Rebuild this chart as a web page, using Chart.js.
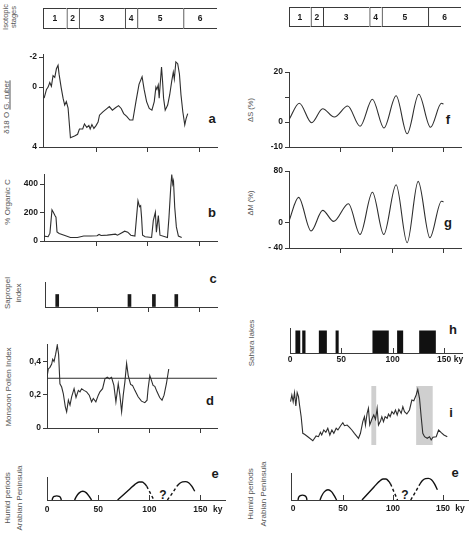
<!DOCTYPE html>
<html><head><meta charset="utf-8">
<script src="https://cdn.jsdelivr.net/npm/chart.js@4/dist/chart.umd.min.js"></script>
<style>
html,body{margin:0;padding:0;background:#fff}
body{width:470px;height:539px;position:relative;overflow:hidden;font-family:"Liberation Sans",Arial,sans-serif}
.t{position:absolute;transform:translate(-50%,-50%) rotate(-90deg);white-space:nowrap;font-size:8px;color:#555;text-align:center;line-height:11px}
.l{position:absolute;transform:translate(-50%,-50%);font-weight:bold;font-size:13px;color:#1a1a1a;line-height:13px}
</style></head><body>
<div class="t" style="left:9px;top:17px;font-size:7.5px;line-height:7.5px">Isotopic<br>stages</div>
<div class="t" style="left:6px;top:107px">δ18 O <u>G. ruber</u></div>
<div class="t" style="left:7px;top:202px">% Organic C</div>
<div class="t" style="left:13px;top:293px">Sapropel<br>index</div>
<div class="t" style="left:8px;top:387px">Monsoon Pollen Index</div>
<div class="t" style="left:13px;top:498px;line-height:11.5px">Humid periods<br>Arabian Peninsula</div>
<div class="t" style="left:250px;top:110px;font-size:7.5px">ΔS (%)</div>
<div class="t" style="left:250px;top:203px;font-size:7.5px">ΔM (%)</div>
<div class="t" style="left:251px;top:343px">Sahara lakes</div>
<div class="t" style="left:257px;top:494px;line-height:13px">Humid periods<br>Arabian Peninsula</div>
<div class="l" style="left:212px;top:118px">a</div>
<div class="l" style="left:212px;top:212px">b</div>
<div class="l" style="left:213px;top:278px">c</div>
<div class="l" style="left:210px;top:400px">d</div>
<div class="l" style="left:215px;top:473px">e</div>
<div class="l" style="left:163px;top:495px;font-size:12px">?</div>
<div class="l" style="left:448px;top:119px">f</div>
<div class="l" style="left:448px;top:222px">g</div>
<div class="l" style="left:453px;top:329px">h</div>
<div class="l" style="left:451px;top:412px">i</div>
<div class="l" style="left:455px;top:472px">e</div>
<div class="l" style="left:405px;top:495px;font-size:12px">?</div>
<script>
// ---------------- DATA ----------------
const stageNames = ['1','2','3','4','5','6'];
const stageBoundaries = [21, 33, 78, 90, 135];
const xTickValues = [0, 50, 100, 150];

const o18Age = [-0.9,1.4,3,4.6,6.2,7.8,9.5,11.1,12.7,13.7,15.8,17.6,19.2,20.8,22.5,24.8,28.8,31.8,33.6,36.8,38.5,40.8,42.8,44.1,45.8,47.7,49.8,51.8,53.2,56.5,59.8,62.8,65.8,68.8,71.8,74.4,76.8,79.8,82.8,85.8,88.8,91.8,94.8,96.8,99.2,101.8,104.4,106.7,108.3,109.3,110.6,111.5,112.5,113.8,114.8,115.8,117.4,119.8,121.8,123.8,125.3,126.3,127.8,129.6,131.3,132.8,134.6,136.5,137.8,139.4];
const o18Val = [0.74,0.16,0,-0.3,-0.05,-0.76,-0.64,-1.22,-1.45,-0.86,0.05,0.74,1.2,0.97,1.4,3.38,3.26,3.15,2.8,2.8,2.46,2.7,2.57,2.8,2.5,2.76,2.57,2.34,1.88,1.65,1.47,1.3,1.54,1.38,1.24,1.43,1.77,1.95,2.2,2.2,0.97,-0.18,-0.69,0.16,0.97,1.43,1.54,0.97,0,0.16,-0.14,0.74,-0.18,-1.33,-0.41,0.74,1.54,1.2,0.51,-0.41,-0.99,-0.53,-1.68,-1.56,-0.87,0.51,1.65,2.52,2.1,1.77];
const o18Ticks = [-2, 0, 4];
const o18TickLabels = ['-2', '0', '4'];

const orgCAge = [-1.7,3,4.8,6.8,8.1,9.7,10.7,11.7,13.8,18.7,24.8,31.6,37.8,44.4,50.8,52.8,54.8,60.8,68.8,70.8,73.8,77.8,80.8,83.8,87.8,89.4,90.8,92.3,93.4,94.3,95.3,97.8,104.1,105.8,107.8,108.8,110.7,112.3,119.6,121.1,122.8,123.8,124.8,125.5,126.7,128.3,130.3,133.5];
const orgCVal = [35,30,55,219,202,179,168,64,53,41,25,25,35,35,37,46,39,41,48,41,53,69,62,41,35,168,283,241,248,168,41,30,25,145,202,62,179,41,25,168,375,467,400,421,237,99,35,25];
const orgCTicks = [0, 200, 400];
const orgCTickLabels = ['0', '200', '400'];

const sapropelAge = [11, 82, 106, 128];
const sapropelVal = [0.5, 0.5, 0.5, 0.5];

const pollenAge = [0,1.3,2.9,4.6,5.6,6.9,8.5,10.1,11.4,12.7,14.4,16,18,19.3,21,22.6,24.2,26.6,28.5,30.8,32.4,34,36.3,38.9,41.5,43.8,45.5,48,50.4,52,54.6,56.9,59.2,61.2,63.4,65.7,67.7,70,71.6,73.3,74.9,76.5,78.2,79.8,82.1,84,86.3,89.5,92.8,96.1,98.3,99.3,101,102.6,104.2,105.9,108.1,110.7,113,115,117.3,119.6];
const pollenVal = [0.306,0.356,0.366,0.386,0.415,0.401,0.445,0.5,0.445,0.267,0.247,0.208,0.128,0.098,0.168,0.138,0.188,0.237,0.184,0.227,0.218,0.237,0.227,0.218,0.198,0.158,0.178,0.158,0.198,0.218,0.237,0.297,0.306,0.297,0.306,0.257,0.158,0.267,0.198,0.098,0.198,0.277,0.39,0.316,0.263,0.257,0.227,0.188,0.162,0.153,0.168,0.237,0.316,0.287,0.257,0.251,0.218,0.184,0.168,0.198,0.267,0.356];
const pollenThreshold = 0.3;
const pollenTicks = [0, 0.2, 0.4];
const pollenTickLabels = ['0', '0,2', '0,4'];

const humid1Age = [5, 5.6, 7.3, 9.5, 11.7, 13.4, 14];
const humid1Val = [0, 0.09, 0.16, 0.18, 0.16, 0.09, 0];
const humid2Age = [27, 28.5, 31.5, 35, 38.5, 41.5, 43.6];
const humid2Val = [0, 0.14, 0.31, 0.38, 0.31, 0.14, 0];
const humid3Age = [69, 75, 81, 86, 90, 93, 96, 97.5];
const humid3Val = [0, 0.24, 0.48, 0.68, 0.78, 0.78, 0.68, 0.6];
const humid3UncertainAge = [97.5, 101, 104.5];
const humid3UncertainVal = [0.6, 0.3, 0];
const humid4UncertainAge = [117.7, 122.5, 127];
const humid4UncertainVal = [0, 0.3, 0.6];
const humid4Age = [127, 129.5, 132.5, 135.3, 138.5, 141.5, 144.4];
const humid4Val = [0.6, 0.72, 0.79, 0.8, 0.75, 0.6, 0.38];

const insolSAge = [0, 10, 22, 32.7, 44, 57, 69, 81, 92.2, 104, 114.7, 126, 137.4, 148, 150];
const insolSVal = [0.9, 7.5, -0.3, 5.3, 2, 6.4, -1.7, 9.1, -2.4, 10.5, -4.7, 11.1, -2.1, 7.5, 7.2];
const insolSTicks = [-10, 0, 10, 20];
const insolSTickLabels = ['-10', '0', '', '20'];

const insolMAge = [0, 9.3, 21.4, 32.7, 43.4, 57.7, 69, 81, 92, 104, 114.7, 125.4, 136.8, 148, 150];
const insolMVal = [2, 39, -13.5, 18.7, 1.5, 29, -18.7, 47, -19, 58.7, -31.7, 64, -24, 33, 32];
const insolMTicks = [-40, 0, 80];
const insolMTickLabels = ['- 40', '0', '80'];

const lakeStart = [5.1, 11.9, 28.1, 44.4, 80.3, 104.3, 125.8];
const lakeEnd = [10, 15.1, 35.9, 47.4, 96.2, 110.2, 142.1];
const lakeLevel = 0.9;

const dustAge = [0.5,1.8,3.1,4.4,5.7,7,8.3,9.3,10.9,12.5,14.2,17.4,22.3,25.5,27.8,29.7,31,33,35,36.9,38.9,40.9,42.8,45.1,46.8,49.4,51.6,53.2,55.8,58.1,60.4,62.9,66.9,68.8,71.1,72.7,73.7,75.3,76.6,77.9,79.9,81.8,83.5,85.1,86.4,88.4,89.7,91.3,92.9,94.9,96.2,97.8,99.5,101.4,103,104.7,106.3,108.6,110.2,111.8,114.1,116.7,119,120.9,123.2,124.8,126.5,128.1,129.7,131.4,134,136.3,137.9,139.6,142.8,145.1,147.7,150.3,153.6];
const dustVal = [43.3,50,43.3,52.3,39,52.3,48.3,40,28.3,11.7,10.7,8.3,4.3,9,8.3,12.7,10,15,12.7,16.7,10,15,11.7,16.7,15,19.3,22.3,19.3,20,17.7,15,11.7,6.7,11.7,23.3,28.3,20,31.7,36.7,20,25.7,30,25.7,36.7,20,24,28.3,23.3,28.3,26.7,31,28.3,33.3,31,35,30,35.7,31.7,38.3,33.3,31,35,45,44.3,50,55.7,46.7,28.3,11.7,8.3,6.7,8.3,5,7.7,8.3,15,12.3,10,8.3];
const bandStart = [79.3, 123.2];
const bandEnd = [84.2, 139.5];
const bandTop = 59;

// ---------------- STYLE / HELPERS ----------------
const FONT = '"Liberation Sans", Arial, sans-serif';
const LINE = '#2e2e2e';
const AX = '#3a3a3a';
Chart.defaults.font.family = FONT;
Chart.defaults.font.size = 8.5;
Chart.defaults.font.weight = 'bold';
Chart.defaults.color = '#1a1a1a';
Chart.defaults.animation = false;
Chart.defaults.plugins.legend.display = false;
Chart.defaults.plugins.tooltip.enabled = false;
if (Chart.defaults.plugins.colors) Chart.defaults.plugins.colors.enabled = false;
Chart.defaults.elements.point.radius = 0;
Chart.defaults.elements.line.borderWidth = 1.1;

const tickMarks = {
  id: 'tickMarks',
  afterDraw(chart, args, opts) {
    if (!opts || !opts.values) return;
    const s = chart.scales.x, ctx = chart.ctx, y0 = chart.chartArea.bottom;
    ctx.save(); ctx.strokeStyle = AX; ctx.lineWidth = 1;
    opts.values.forEach(v => {
      const x = Math.round(s.getPixelForValue(v)) + 0.5;
      ctx.beginPath(); ctx.moveTo(x, y0); ctx.lineTo(x, y0 + opts.len); ctx.stroke();
    });
    ctx.restore();
  }
};
const stageLabels = {
  id: 'stageLabels',
  afterDatasetsDraw(chart, args, opts) {
    if (!opts || !opts.show) return;
    const ctx = chart.ctx; ctx.save();
    ctx.font = 'bold 8.5px ' + FONT; ctx.fillStyle = '#1a1a1a';
    ctx.textAlign = 'center'; ctx.textBaseline = 'middle';
    chart.data.datasets.forEach((ds, i) => {
      const el = chart.getDatasetMeta(i).data[0];
      ctx.fillText(ds.label, (el.x + el.base) / 2, el.y + 0.5);
    });
    ctx.restore();
  }
};
Chart.register(tickMarks, stageLabels);

const pts = (xs, ys) => xs.map((x, i) => ({x, y: ys[i]}));

function mk(area, yW, xH, pad, config) {
  const cv = document.createElement('canvas');
  const w = pad.l + yW + (area.r - area.l) + pad.r;
  const h = pad.t + (area.b - area.t) + xH + pad.b;
  cv.width = w; cv.height = h;
  cv.style.cssText = 'position:absolute;left:' + (area.l - yW - pad.l) + 'px;top:' + (area.t - pad.t) + 'px;width:' + w + 'px;height:' + h + 'px';
  document.body.appendChild(cv);
  const o = config.options;
  o.responsive = false;
  o.maintainAspectRatio = false;
  o.layout = {padding: {left: pad.l, right: pad.r, top: pad.t, bottom: pad.b}};
  if (o.scales.x.display !== false) o.scales.x.afterFit = s => { s.height = xH; };
  if (o.scales.y.display !== false) o.scales.y.afterFit = s => { s.width = yW; };
  return new Chart(cv, config);
}

function xPlain(min, max) {
  return {type: 'linear', min, max, offset: false,
    border: {display: true, color: AX, width: 1},
    grid: {drawOnChartArea: false, drawTicks: false, offset: false},
    ticks: {display: false}};
}
function xLabelled(min, max, kyAt, pad) {
  return {type: 'linear', min, max, offset: false,
    border: {display: true, color: AX, width: 1},
    grid: {drawOnChartArea: false, drawTicks: false, offset: false},
    afterBuildTicks: s => { s.ticks = xTickValues.concat([kyAt]).map(v => ({value: v})); },
    ticks: {display: true, padding: pad, autoSkip: false, maxRotation: 0,
      callback: v => (v === kyAt ? 'ky' : String(v))}};
}
function yTicked(min, max, vals, labels, extra) {
  return Object.assign({type: 'linear', min, max,
    border: {display: true, color: AX, width: 1},
    grid: {drawOnChartArea: false, drawTicks: true, tickLength: 4, color: AX},
    afterBuildTicks: s => { s.ticks = vals.map(v => ({value: v})); },
    ticks: {display: true, padding: 2, autoSkip: false,
      callback: (v) => labels[vals.indexOf(v)]}}, extra || {});
}
function yPlain(min, max) {
  return {type: 'linear', min, max,
    border: {display: true, color: AX, width: 1},
    grid: {drawOnChartArea: false, drawTicks: false},
    ticks: {display: false}};
}
const PAD = {l: 0, t: 6, r: 12, b: 2};
const downTicks = {values: [50, 100, 150], len: 5};
const upTicks = {values: [50, 100, 150], len: -5};
const curve = {borderColor: LINE, borderWidth: 1.1, tension: 0};

// ---------------- STAGE BOXES ----------------
function stageBox(area, xmin, xmax) {
  const bounds = [xmin].concat(stageBoundaries, [xmax]);
  mk(area, 0, 0, {l: 0, t: 0, r: 0, b: 0}, {
    type: 'bar',
    data: {labels: ['stage'], datasets: stageNames.map((n, i) => ({
      label: n, data: [[bounds[i], bounds[i + 1]]],
      backgroundColor: 'rgba(0,0,0,0)', borderColor: AX,
      borderWidth: {left: 1, top: 1, bottom: 1, right: 0}, borderSkipped: false,
      barPercentage: 1, categoryPercentage: 1, grouped: false, inflateAmount: 0}))},
    options: {indexAxis: 'y', plugins: {stageLabels: {show: true}},
      scales: {x: {type: 'linear', min: xmin, max: xmax, display: false},
               y: {display: false}}}
  });
}
stageBox({l: 43, t: 8, r: 217, b: 29}, -2, 168);
stageBox({l: 289, t: 7, r: 461, b: 27}, 0, 167);

// ---------------- a : d18O ----------------
mk({l: 43, t: 53, r: 217, b: 147}, 30, 8, PAD, {
  type: 'line',
  data: {datasets: [Object.assign({data: pts(o18Age, o18Val)}, curve)]},
  options: {plugins: {tickMarks: downTicks},
    scales: {x: xPlain(-2, 168), y: yTicked(-2.2, 4, o18Ticks, o18TickLabels, {reverse: true})}}
});

// ---------------- b : organic C ----------------
mk({l: 44, t: 173, r: 217, b: 241}, 30, 8, PAD, {
  type: 'line',
  data: {datasets: [Object.assign({data: pts(orgCAge, orgCVal)}, curve)]},
  options: {plugins: {tickMarks: downTicks},
    scales: {x: xPlain(-1, 168), y: yTicked(0, 470, orgCTicks, orgCTickLabels)}}
});

// ---------------- c : sapropels ----------------
mk({l: 45, t: 282, r: 217, b: 307}, 30, 8, PAD, {
  type: 'bar',
  data: {datasets: [{data: pts(sapropelAge, sapropelVal), backgroundColor: '#1a1a1a', borderWidth: 0, barThickness: 3}]},
  options: {plugins: {tickMarks: downTicks},
    scales: {x: xPlain(-1, 168), y: yPlain(0, 1)}}
});

// ---------------- d : monsoon pollen ----------------
mk({l: 47, t: 343, r: 217, b: 428}, 30, 8, PAD, {
  type: 'line',
  data: {datasets: [
    Object.assign({data: pts(pollenAge, pollenVal)}, curve),
    Object.assign({data: [{x: 0, y: pollenThreshold}, {x: 167, y: pollenThreshold}]}, curve, {borderWidth: 1})
  ]},
  options: {plugins: {tickMarks: downTicks},
    scales: {x: xPlain(0, 167), y: yTicked(0, 0.506, pollenTicks, pollenTickLabels)}}
});

// ---------------- e : humid periods (both columns) ----------------
function humid(area, xmin, xmax, kyAt, lblPad) {
  const solid = {tension: 0, cubicInterpolationMode: 'monotone', borderWidth: 1.4, borderColor: '#111'};
  const dash = Object.assign({}, solid, {borderDash: [3, 2.5]});
  mk(area, 30, 16, PAD, {
    type: 'line',
    data: {datasets: [
      Object.assign({data: pts(humid1Age, humid1Val)}, solid),
      Object.assign({data: pts(humid2Age, humid2Val)}, solid),
      Object.assign({data: pts(humid3Age, humid3Val)}, solid),
      Object.assign({data: pts(humid3UncertainAge, humid3UncertainVal)}, dash),
      Object.assign({data: pts(humid4UncertainAge, humid4UncertainVal)}, dash),
      Object.assign({data: pts(humid4Age, humid4Val)}, solid)
    ]},
    options: {plugins: {tickMarks: upTicks},
      scales: {x: xLabelled(xmin, xmax, kyAt, lblPad), y: yPlain(0, 1)}}
  });
}
humid({l: 47, t: 477, r: 225, b: 500}, 0, 174, 167, 5);
humid({l: 291, t: 473, r: 468, b: 500}, -2, 175, 167, 4);

// ---------------- f : delta S ----------------
mk({l: 289, t: 71, r: 461, b: 147}, 30, 8, PAD, {
  type: 'line',
  data: {datasets: [Object.assign({data: pts(insolSAge, insolSVal)}, curve, {cubicInterpolationMode: 'monotone'})]},
  options: {plugins: {tickMarks: downTicks},
    scales: {x: xPlain(0, 167), y: yTicked(-10, 20, insolSTicks, insolSTickLabels)}}
});

// ---------------- g : delta M ----------------
mk({l: 289, t: 170, r: 461, b: 248}, 30, 8, PAD, {
  type: 'line',
  data: {datasets: [Object.assign({data: pts(insolMAge, insolMVal)}, curve, {cubicInterpolationMode: 'monotone'})]},
  options: {plugins: {tickMarks: downTicks},
    scales: {x: xPlain(0, 167), y: yTicked(-40, 80, insolMTicks, insolMTickLabels)}}
});

// ---------------- h : Sahara lakes ----------------
const lakePts = [];
lakeStart.forEach((s, i) => {
  lakePts.push({x: s, y: 0}, {x: s, y: lakeLevel}, {x: lakeEnd[i], y: lakeLevel}, {x: lakeEnd[i], y: 0});
});
mk({l: 290, t: 328, r: 462, b: 353}, 30, 16, PAD, {
  type: 'line',
  data: {datasets: [{data: lakePts, tension: 0, borderWidth: 0, borderColor: 'rgba(0,0,0,0)', fill: 'origin', backgroundColor: '#111'}]},
  options: {plugins: {tickMarks: upTicks},
    scales: {x: xLabelled(0, 167.5, 164, 2), y: yPlain(0, 1)}}
});

// ---------------- i : dust record with shaded bands ----------------
const bandPts = [];
bandStart.forEach((s, i) => {
  bandPts.push({x: s, y: 0}, {x: s, y: bandTop}, {x: bandEnd[i], y: bandTop}, {x: bandEnd[i], y: 0});
});
mk({l: 290, t: 386, r: 461, b: 445}, 0, 0, {l: 0, t: 0, r: 0, b: 0}, {
  type: 'line',
  data: {datasets: [
    Object.assign({data: pts(dustAge, dustVal), order: 1}, curve),
    {data: bandPts, tension: 0, borderWidth: 0, borderColor: 'rgba(0,0,0,0)', fill: 'origin', backgroundColor: '#cfcfcf', order: 2}
  ]},
  options: {scales: {x: {type: 'linear', min: 0, max: 167, display: false},
                     y: {type: 'linear', min: 0, max: bandTop, display: false}}}
});
</script>
</body></html>
